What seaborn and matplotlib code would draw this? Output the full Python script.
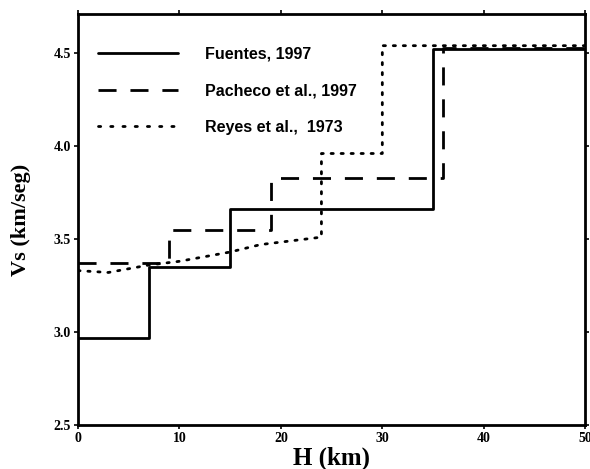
import matplotlib
matplotlib.use("Agg")
import matplotlib.pyplot as plt
import seaborn as sns

# Shear-wave velocity models (depth in km, Vs in km/s)
fuentes_depth = [0, 7, 15, 35, 50]
fuentes_vs = [2.97, 3.35, 3.66, 4.52, 4.52]

pacheco_depth = [0, 9, 19, 36, 50]
pacheco_vs = [3.37, 3.55, 3.83, 4.53, 4.53]

reyes_depth = [0, 3, 7, 10, 15, 18, 24, 24, 30, 30, 50]
reyes_vs = [3.33, 3.32, 3.36, 3.38, 3.43, 3.47, 3.51, 3.96, 3.96, 4.54, 4.54]

labels = ["Fuentes, 1997", "Pacheco et al., 1997", "Reyes et al.,  1973"]
x_ticks = [0, 10, 20, 30, 40, 50]
y_ticks = [2.5, 3.0, 3.5, 4.0, 4.5]

sns.set_style("ticks")
plt.rcParams["font.family"] = ["Liberation Sans", "DejaVu Sans"]
plt.rcParams.update({"text.color": "black", "axes.labelcolor": "black",
                     "xtick.color": "black", "ytick.color": "black"})

fig = plt.figure(figsize=(5.9, 4.69), dpi=100)
ax = fig.add_axes([0.132, 0.094, 0.860, 0.876])

sns.lineplot(x=fuentes_depth, y=fuentes_vs, ax=ax, color="black", lw=2.0,
             drawstyle="steps-post", label=labels[0], sort=False,
             estimator=None)
sns.lineplot(x=pacheco_depth, y=pacheco_vs, ax=ax, color="black", lw=2.0,
             drawstyle="steps-post", label=labels[1], sort=False,
             estimator=None)
sns.lineplot(x=reyes_depth, y=reyes_vs, ax=ax, color="black", lw=2.0,
             label=labels[2], sort=False, estimator=None)

lines = ax.get_lines()
lines[1].set_dashes([6.5, 5])
lines[2].set_dashes([0.8, 2.8])
lines[2].set_dash_capstyle("round")

ax.set_xlim(0, 50)
ax.set_ylim(2.5, 4.71)
ax.set_xticks(x_ticks)
ax.set_yticks(y_ticks)
ax.set_xticklabels([str(t) for t in x_ticks], family="Liberation Serif",
                   fontweight="bold", fontsize=10)
ax.set_yticklabels([f"{t:.1f}" for t in y_ticks], family="Liberation Serif",
                   fontweight="bold", fontsize=10)
ax.tick_params(direction="out", length=3, width=1.2, top=True, right=True,
               pad=2, colors="black")
for s in ax.spines.values():
    s.set_linewidth(2.0)
    s.set_color("black")

ax.set_xlabel("H (km)", family="Liberation Serif", fontweight="bold",
              fontsize=18, labelpad=1, color="black")
ax.set_ylabel("Vs (km/seg)", family="Liberation Serif", fontweight="bold",
              fontsize=16, labelpad=16, color="black")

leg = ax.legend(loc="upper left", frameon=False, handlelength=5.0,
                handletextpad=1.7, labelspacing=1.35,
                bbox_to_anchor=(0.012, 0.955),
                prop={"family": "Liberation Sans", "weight": "bold", "size": 11.5})
for t in leg.get_texts():
    t.set_color("black")
leg_lines = leg.get_lines()
for h in leg_lines:
    h.set_linewidth(2.0)
leg_lines[1].set_dashes([6.5, 5])
leg_lines[2].set_dashes([0.8, 3.6])

fig.savefig("out.png", dpi=100, facecolor="white")
